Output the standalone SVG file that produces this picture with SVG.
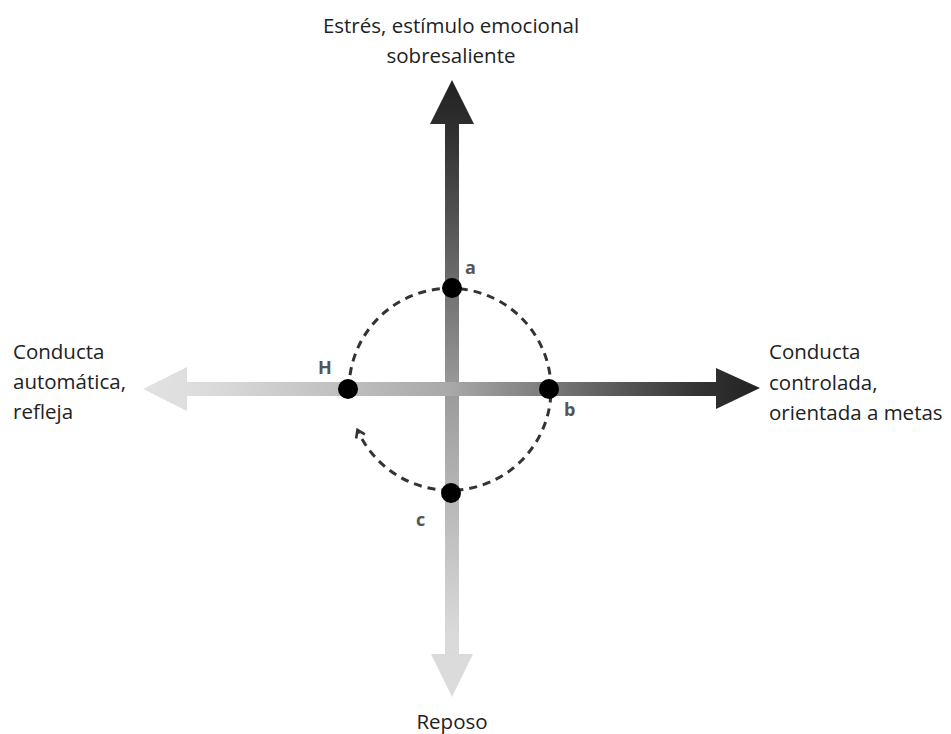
<svg xmlns="http://www.w3.org/2000/svg" width="951" height="734" viewBox="0 0 951 734">
<style>
.t{font-family:"Open Sans","Noto Sans",sans-serif;font-size:20.5px;fill:#222}
.lb{font-family:"Open Sans","Noto Sans",sans-serif;font-size:18px;font-weight:bold;fill:#555}
.dot{fill:#000}
</style>
<defs>
<linearGradient id="gv" gradientUnits="userSpaceOnUse" x1="0" y1="80" x2="0" y2="697">
<stop offset="0" stop-color="#222"/>
<stop offset="0.1" stop-color="#333"/>
<stop offset="0.5" stop-color="#9a9a9a"/>
<stop offset="0.9" stop-color="#dadada"/>
<stop offset="1" stop-color="#dcdcdc"/>
</linearGradient>
<linearGradient id="gh" gradientUnits="userSpaceOnUse" x1="143" y1="0" x2="760" y2="0">
<stop offset="0" stop-color="#e2e2e2"/>
<stop offset="0.1" stop-color="#dcdcdc"/>
<stop offset="0.5" stop-color="#a8a8a8"/>
<stop offset="0.9" stop-color="#333"/>
<stop offset="1" stop-color="#222"/>
</linearGradient>
<marker id="chev" viewBox="0 0 10 10" refX="6" refY="5" markerWidth="4" markerHeight="4" orient="auto" markerUnits="strokeWidth">
<path d="M1,1 L7,5 L1,9" fill="none" stroke="#333" stroke-width="2.2"/>
</marker>
</defs>
<g id="connectors">
<polygon id="axis-vertical" fill="url(#gv)" points="452,80 474,124 459,124 459,654 473,654 452,697 431,654 445,654 445,124 430,124"/>
<polygon id="axis-horizontal" fill="url(#gh)" points="143,389 187,367 187,382 716,382 716,368 760,388 716,409 716,396 187,396 187,411"/>
<path id="cycle" d="M349,389 A101,101 0 1 1 358,431" fill="none" stroke="#333" stroke-width="3" stroke-dasharray="8,6" marker-end="url(#chev)"/>
</g>
<g id="node-a"><circle class="dot" cx="452" cy="288" r="10"/><text class="lb" x="465" y="274">a</text></g>
<g id="node-b"><circle class="dot" cx="549" cy="389" r="10"/><text class="lb" x="564" y="416">b</text></g>
<g id="node-c"><circle class="dot" cx="451" cy="493" r="10"/><text class="lb" x="416" y="526">c</text></g>
<g id="node-H"><circle class="dot" cx="348" cy="389" r="10"/><text class="lb" x="318" y="374">H</text></g>
<g id="label-top"><text class="t" x="451" y="33" text-anchor="middle">Estrés, estímulo emocional</text><text class="t" x="451" y="63" text-anchor="middle">sobresaliente</text></g>
<g id="label-left"><text class="t" x="13" y="359">Conducta</text><text class="t" x="13" y="389">automática,</text><text class="t" x="13" y="419">refleja</text></g>
<g id="label-right"><text class="t" x="769" y="359">Conducta</text><text class="t" x="769" y="390">controlada,</text><text class="t" x="769" y="420">orientada a metas</text></g>
<g id="label-bottom"><text class="t" x="452" y="729" text-anchor="middle">Reposo</text></g>
</svg>
